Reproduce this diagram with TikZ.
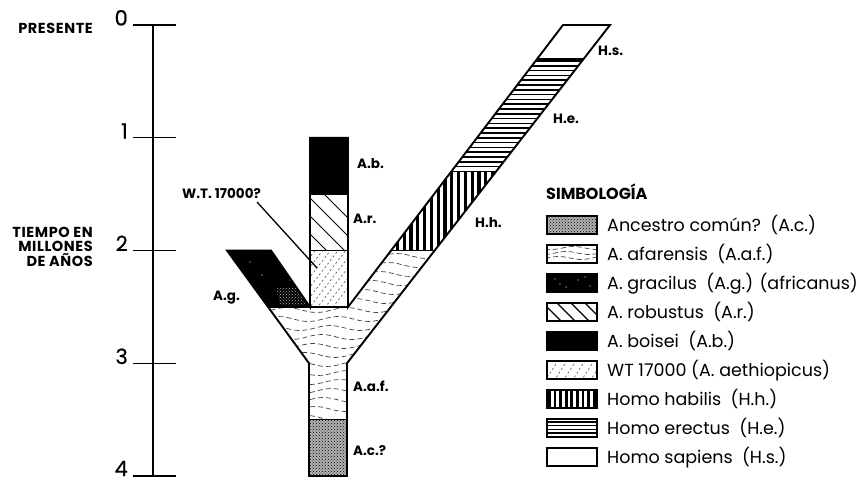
\documentclass[tikz,border=0pt]{standalone}
\usepackage{fontspec}
\setmainfont{Poppins}
\usetikzlibrary{patterns}
\begin{document}
\begin{tikzpicture}[x=1pt,y=-1pt,
  outline/.style={line width=1.9pt, line join=miter},
  sep/.style={line width=1.6pt},
  axisline/.style={line width=1.6pt},
  ticks/.style={line width=1.4pt},
  lab/.style={font=\bfseries\fontsize{13.5}{15}\selectfont, inner sep=0pt},
  leg/.style={font=\fontsize{17.5}{20}\selectfont, inner sep=0pt, anchor=base west},
  num/.style={font=\fontsize{21}{24}\selectfont\addfontfeature{FakeBold=0.6}, inner sep=0pt, anchor=base east},
  side/.style={font=\bfseries\fontsize{14.5}{16}\selectfont\addfontfeature{LetterSpace=4}, inner sep=0pt, anchor=base east},
  lbox/.style={draw, line width=1.5pt},
  wave/.style={line width=0.7pt, black!75, dash pattern=on 5pt off 3pt},
  dia/.style={line width=0.8pt},
  wtl/.style={line width=0.6pt, black!70, dash pattern=on 2pt off 2.5pt}
]
\useasboundingbox (0,0) rectangle (865,482);

% ---------------- axis ----------------
\coordinate (ax0) at (153,25);
\coordinate (ax4) at (153,476);
\draw[axisline] (ax0) -- (ax4);
\foreach \t/\yy in {0/25,1/137.75,2/250.5,3/363.25,4/476}{
  \coordinate (tl\t) at (133,\yy);
  \coordinate (tr\t) at (176,\yy);
  \draw[ticks] (tl\t) -- (tr\t);
}
\node[num] (n0) at (128,25.5) {0};
\node[num] (n1) at (128,138.5) {1};
\node[num] (n2) at (128,251) {2};
\node[num] (n3) at (128,364) {3};
\node[num] (n4) at (128,476) {4};
\node[side] (presente) at (93,33) {PRESENTE};
\node[side] (tiempo1) at (93,237) {TIEMPO EN};
\node[side] (tiempo2) at (93,251.5) {MILLONES};
\node[side] (tiempo3) at (93,266) {DE AÑOS};

% ---------------- fills ----------------
% A.c. stem bottom
\fill[black!30] (309,419.6) rectangle (347,476);
\fill[pattern=crosshatch dots, pattern color=black] (309,419.6) rectangle (347,476);
% A.af region
\begin{scope}
  \clip (309,419.6) -- (347,419.6) -- (347,363.25) -- (434.5,250.5) -- (391.1,250.5)
        -- (348,307) -- (267,307) -- (309,363.25) -- cycle;
  \foreach \k in {0,...,20}{
    \draw[wave] plot[domain=255:440, samples=40] (\x, {247+9*\k + 2.5*sin(6*\x + 50*\k)});
  }
\end{scope}
% A.g.
\fill (227,250.5) -- (271,250.5) -- (310,307) -- (269,307) -- cycle;
\fill[pattern=crosshatch dots, pattern color=white!70!black] (276,288) -- (298,288) -- (306,305) -- (280,305) -- cycle;
\foreach \p in {(250,262),(262,275),(283,268),(256,290),(290,280)}{ \fill[white] \p circle (0.7); }
% A.b.
\fill (310,137.75) rectangle (348,194.1);
% A.r.
\begin{scope}
  \clip (310,194.1) rectangle (348,250.5);
  \foreach \k in {0,...,5}{ \draw[dia] (300,170+18*\k) -- +(60,60); }
\end{scope}
% WT 17000
\begin{scope}
  \clip (310,250.5) rectangle (348,307);
  \foreach \k in {0,...,9}{ \draw[wtl] (300,260+10*\k) -- +(50,-65); }
\end{scope}
% H.h.
\begin{scope}
  \clip (391.1,250.5) -- (434.5,250.5) -- (495.9,171.6) -- (451.2,171.6) -- cycle;
  \foreach \k in {0,...,18}{ \fill (389+6.8*\k,165) rectangle +(3.2,90); }
\end{scope}
% H.e.
\begin{scope}
  \clip (451.2,171.6) -- (495.9,171.6) -- (583.7,58.8) -- (537.2,58.8) -- cycle;
  \foreach \k in {0,...,23}{ \draw[line width=1.5pt] (440,61+4.8*\k) -- (600,61+4.8*\k); }
\end{scope}

% ---------------- separators ----------------
\draw[sep] (268,307) -- (348,307);
\draw[sep] (309,419.6) -- (347,419.6);
\draw[sep] (310,194.1) -- (348,194.1);
\draw[sep] (310,250.5) -- (348,250.5);
\draw[sep] (391.1,250.5) -- (434.5,250.5);
\draw[sep] (451.2,171.6) -- (495.9,171.6);
\draw[sep] (537.2,58.8) -- (583.7,58.8);

% ---------------- outline ----------------
\draw[outline] (309,476) -- (347,476) -- (347,363.25) -- (610,25) -- (563,25) -- (348,307)
  -- (348,137.75) -- (310,137.75) -- (310,307) -- (271,250.5) -- (227,250.5)
  -- (309,363.25) -- cycle;

% ---------------- tree labels ----------------
\node[lab, anchor=base west] (lAb) at (357,168) {A.b.};
\node[lab, anchor=base west] (lAr) at (353,223) {A.r.};
\node[lab, anchor=base west] (lWT) at (182,198) {W.T. 17000?};
\coordinate (wtpt) at (317,268);
\draw[line width=1.3pt] (257,202) -- (wtpt);
\node[lab, anchor=base west] (lAg) at (213,300) {A.g.};
\node[lab, anchor=base west] (lAaf) at (353,391) {A.a.f.};
\node[lab, anchor=base west] (lAc) at (353,455) {A.c.?};
\node[lab, anchor=base west] (lHs) at (598,55) {H.s.};
\node[lab, anchor=base west] (lHe) at (553,123) {H.e.};
\node[lab, anchor=base west] (lHh) at (475,227) {H.h.};

% ---------------- legend ----------------
\node[font=\bfseries\fontsize{16}{18}\selectfont, inner sep=0pt, anchor=base west] (simb) at (546,199) {SIMBOLOGÍA};

% 0 A.c.
\fill[black!30] (547,216) rectangle (597,234);
\fill[pattern=crosshatch dots, pattern color=black] (547,216) rectangle (597,234);
\draw[lbox] (547,216) rectangle (597,234);
\node[leg] (t0) at (607,231) {Ancestro común?\ \ (A.c.)};
% 1 A.af
\begin{scope}
  \clip (547,245) rectangle (597,263);
  \foreach \k in {0,1,2}{ \draw[wave] plot[domain=545:600, samples=20] (\x, {248+5*\k + 1.5*sin(8*\x + 60*\k)}); }
\end{scope}
\draw[lbox] (547,245) rectangle (597,263);
\node[leg] (t1) at (607,260) {A. afarensis\ \ (A.a.f.)};
% 2 A.g.
\fill (547,274) rectangle (597,292);
\foreach \p in {(555,279),(566,287),(578,280),(590,286),(560,284),(585,277)}{ \fill[white] \p circle (0.7); }
\draw[lbox] (547,274) rectangle (597,292);
\node[leg] (t2) at (607,289) {A. gracilus\ \ (A.g.) (africanus)};
% 3 A.r.
\begin{scope}
  \clip (547,303) rectangle (597,321);
  \foreach \k in {0,...,3}{ \draw[line width=1.2pt] (540+14*\k,300) -- +(24,24); }
\end{scope}
\draw[lbox] (547,303) rectangle (597,321);
\node[leg] (t3) at (607,318) {A. robustus\ \ (A.r.)};
% 4 A.b.
\fill (547,332) rectangle (597,350);
\draw[lbox] (547,332) rectangle (597,350);
\node[leg] (t4) at (607,347) {A. boisei\ \ (A.b.)};
% 5 WT
\begin{scope}
  \clip (547,361) rectangle (597,379);
  \foreach \k in {0,...,6}{ \draw[wtl] (545+9*\k,381) -- +(14,-22); }
\end{scope}
\draw[lbox] (547,361) rectangle (597,379);
\node[leg] (t5) at (607,376) {WT 17000 (A. aethiopicus)};
% 6 H.h.
\begin{scope}
  \clip (547,390) rectangle (597,408);
  \foreach \k in {0,...,8}{ \fill (548+5.6*\k,388) rectangle +(2.8,22); }
\end{scope}
\draw[lbox] (547,390) rectangle (597,408);
\node[leg] (t6) at (607,405) {Homo habilis\ \ (H.h.)};
% 7 H.e.
\begin{scope}
  \clip (547,419) rectangle (597,437);
  \foreach \k in {0,...,4}{ \draw[line width=1.4pt] (545,422+3.6*\k) -- (600,422+3.6*\k); }
\end{scope}
\draw[lbox] (547,419) rectangle (597,437);
\node[leg] (t7) at (607,434) {Homo erectus\ \ (H.e.)};
% 8 H.s.
\draw[lbox] (547,448) rectangle (597,466);
\node[leg] (t8) at (607,463) {Homo sapiens\ \ (H.s.)};
\end{tikzpicture}
\end{document}
